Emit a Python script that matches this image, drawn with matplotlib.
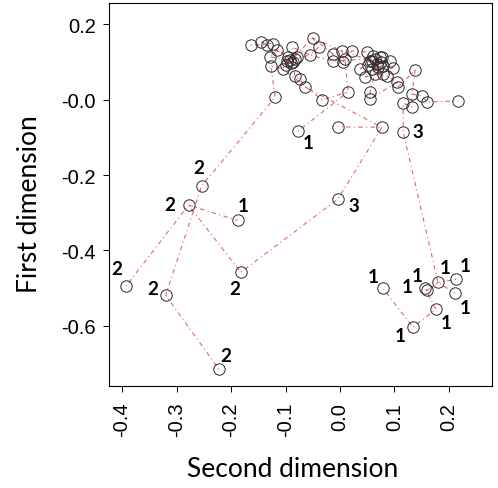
import matplotlib
matplotlib.use("Agg")
import matplotlib.pyplot as plt

# ---------------- data ----------------
# cluster points (top)
top_x = [-0.164, -0.145, -0.134, -0.123, -0.116, -0.129, -0.127, -0.088, -0.092, -0.086,
         -0.098, -0.079, -0.105, -0.083, -0.074, -0.064, -0.055, -0.050, -0.039, -0.119,
         -0.033, -0.013, 0.004, 0.009, 0.022, 0.015, 0.037, 0.050, 0.055, 0.061,
         0.068, 0.059, 0.077, 0.079, 0.092, 0.097, 0.064, 0.086, 0.055, 0.055,
         0.105, 0.107, 0.138, 0.132, 0.151, 0.160, 0.116, 0.132, 0.217, -0.013,
         0.006, 0.074, -0.096, -0.090, -0.083, -0.099, 0.059, 0.070, 0.064, 0.075,
         0.052, 0.079, 0.046]
top_y = [0.146, 0.154, 0.146, 0.148, 0.132, 0.114, 0.090, 0.140, 0.106, 0.101,
         0.103, 0.114, 0.082, 0.063, 0.055, 0.034, 0.119, 0.164, 0.140, 0.007,
         0.000, 0.122, 0.130, 0.109, 0.130, 0.021, 0.082, 0.127, 0.103, 0.116,
         0.095, 0.082, 0.114, 0.090, 0.103, 0.085, 0.069, 0.063, 0.021, 0.002,
         0.047, 0.034, 0.079, 0.015, 0.010, -0.006, -0.009, -0.019, -0.003, 0.103,
         0.101, 0.114, 0.114, 0.098, 0.109, 0.093, 0.103, 0.087, 0.109, 0.101,
         0.093, 0.069, 0.061]

# labelled points (middle / lower part)
lab_x = [-0.077, -0.004, 0.077, 0.116, -0.004,
         -0.254, -0.278, -0.188, -0.393, -0.320, -0.182, -0.222,
         0.079, 0.134, 0.176, 0.156, 0.160, 0.180, 0.213, 0.211]
lab_y = [-0.083, -0.072, -0.073, -0.086, -0.264,
         -0.229, -0.280, -0.320, -0.495, -0.519, -0.458, -0.716,
         -0.501, -0.604, -0.556, -0.501, -0.506, -0.485, -0.477, -0.514]
lab_text = ["1", "", "", "3", "3",
            "2", "2", "1", "2", "2", "2", "2",
            "1", "1", "1", "1", "1", "1", "1", "1"]

# trajectories: ("t", i) = top point i, ("l", i) = labelled point i
trajectories = [
    [("l", 11), ("l", 9), ("l", 5), ("t", 19), ("t", 6), ("t", 12), ("t", 10)],
    [("l", 8), ("l", 6), ("l", 7)],
    [("l", 6), ("l", 10), ("l", 4), ("l", 2), ("l", 1)],
    [("l", 2), ("t", 15), ("t", 14), ("t", 13), ("t", 9)],
    [("l", 0), ("t", 25), ("t", 23), ("t", 49), ("t", 21)],
    [("t", 12), ("t", 20), ("t", 25)],
    [("t", 0), ("t", 2), ("t", 1), ("t", 3), ("t", 4), ("t", 5), ("t", 8), ("t", 10),
     ("t", 9), ("t", 11), ("t", 7), ("t", 16), ("t", 18), ("t", 17), ("t", 21), ("t", 22),
     ("t", 50), ("t", 24), ("t", 27), ("t", 28), ("t", 26), ("t", 29), ("t", 30), ("t", 51),
     ("t", 32), ("t", 33), ("t", 31), ("t", 34), ("t", 35), ("t", 36), ("t", 37), ("t", 40),
     ("t", 41), ("t", 42), ("t", 43), ("t", 44), ("t", 45), ("t", 48)],
    [("t", 1), ("t", 52), ("t", 53), ("t", 54), ("t", 55), ("t", 17), ("t", 22), ("t", 56),
     ("t", 57), ("t", 58), ("t", 59), ("t", 60), ("t", 61), ("t", 62), ("t", 33)],
    [("t", 4), ("t", 54), ("t", 16), ("t", 49), ("t", 58), ("t", 29), ("t", 59), ("t", 34)],
    [("t", 36), ("t", 38), ("t", 39), ("t", 40)],
    [("t", 43), ("t", 47), ("t", 46), ("l", 3), ("l", 17), ("l", 19)],
    [("l", 18), ("l", 17), ("l", 16), ("l", 15), ("l", 14), ("l", 13), ("l", 12)],
]

# label offsets in pixels (style)
lab_off = [(10, -11), (0, 0), (0, 0), (15, 1), (16, -6),
           (-3, 19), (-19, 1), (6, 15), (-9, 18), (-13, 7), (-6, -16), (7, 14),
           (-10, 12), (-13, -8), (10, -13), (-8, 13), (-20, 4), (7, 15), (9, 14), (10, -14)]

x_ticks = [-0.4, -0.3, -0.2, -0.1, 0.0, 0.1, 0.2]
x_ticklabels = ["-0.4", "-0.3", "-0.2", "-0.1", "0.0", "0.1", "0.2"]
y_ticks = [0.2, 0.0, -0.2, -0.4, -0.6]
y_ticklabels = ["0.2", "-0.0", "-0.2", "-0.4", "-0.6"]

# ---------------- plot ----------------
W, H = 498, 489
fig = plt.figure(figsize=(W / 100, H / 100), dpi=100)
ax = fig.add_axes([109 / W, 1 - 387 / H, (492 - 109) / W, (387 - 4) / H])

def get(p):
    kind, i = p
    if kind == "t":
        return top_x[i], top_y[i]
    return lab_x[i], lab_y[i]

for tr in trajectories:
    xs = [get(p)[0] for p in tr]
    ys = [get(p)[1] for p in tr]
    ax.plot(xs, ys, color="#e04a4a", lw=0.8, alpha=0.85,
            dashes=(1, 3, 4, 3), zorder=2)

ms = 8.2
ax.plot(top_x, top_y, linestyle="none", marker="o", ms=ms, mfc="none",
        mec="#2a2a2a", mew=0.7, zorder=3)
ax.plot(lab_x, lab_y, linestyle="none", marker="o", ms=ms, mfc="none",
        mec="#2a2a2a", mew=0.7, zorder=3)

for x, y, t, off in zip(lab_x, lab_y, lab_text, lab_off):
    if t:
        ax.annotate(t, (x, y), xytext=off, textcoords="offset pixels",
                    ha="center", va="center", fontsize=13.5, fontweight="bold",
                    family=["Lato", "DejaVu Sans"], color="black")

ax.set_xlim(-0.424, 0.279)
ax.set_ylim(-0.760, 0.257)
ax.set_xticks(x_ticks)
ax.set_xticklabels(x_ticklabels, rotation=90, family="Liberation Sans", fontsize=14.5)
ax.set_yticks(y_ticks)
ax.set_yticklabels(y_ticklabels, family="Liberation Sans", fontsize=14.5)
ax.tick_params(axis="y", direction="out", length=4.3, width=0.7, pad=5)
ax.tick_params(axis="x", direction="out", length=4.3, width=0.7, pad=7)
for s in ax.spines.values():
    s.set_linewidth(0.8)

ax.set_xlabel("Second dimension", family="Lato", fontsize=19)
ax.set_ylabel("First dimension", family="Lato", fontsize=19)
ax.xaxis.set_label_coords(0.479, -0.183)
ax.yaxis.set_label_coords(-0.175, 0.478)

fig.savefig("out.png", dpi=100)
